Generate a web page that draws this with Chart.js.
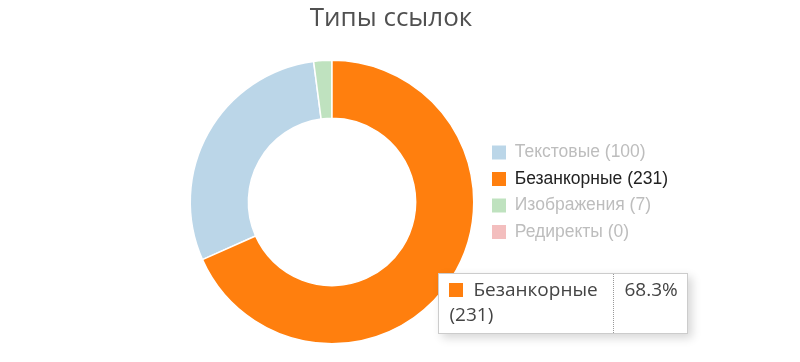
<!DOCTYPE html>
<html lang="ru">
<head>
<meta charset="utf-8">
<title>Типы ссылок</title>
<script src="https://cdn.jsdelivr.net/npm/chart.js@4.4.1/dist/chart.umd.min.js"></script>
<style>
    html, body { margin: 0; padding: 0; background: #fff; }
    #wrap { position: relative; width: 800px; height: 362px; }
    #tip {
        position: absolute;
        display: none;
        background: #fff;
        border: 1px solid #cccccc;
        box-shadow: 4px 4px 9px rgba(0, 0, 0, 0.16);
        font-family: "Open Sans", sans-serif;
        font-size: 19px;
        line-height: 25px;
        color: #444;
        pointer-events: none;
    }
    #tip table { border-collapse: collapse; }
    #tip td { vertical-align: top; padding: 3px 9px 6px 10px; }
    #tip td.nom { width: 155px; }
    #tip td.pct { width: 54px; border-left: 1px dotted #999; padding-left: 10px; }
    #tip .sw { display: inline-block; width: 14px; height: 14px; margin-right: 10px; vertical-align: -1px; }
</style>
</head>
<body>
<div id="wrap">
    <canvas id="graficoLinks" width="800" height="362"></canvas>
    <div id="tip"></div>
</div>
<script>
// Ordem do desenho (sentido horário a partir do topo)
const categorias = ['Безанкорные', 'Текстовые', 'Изображения', 'Редиректы'];
const valores = [231, 100, 7, 0];
// Ordem da legenda
const ordemLegenda = ['Текстовые', 'Безанкорные', 'Изображения', 'Редиректы'];
const categoriaAtiva = 'Безанкорные';

const cores = {
    'Текстовые': [31, 119, 180],
    'Безанкорные': [255, 127, 14],
    'Изображения': [44, 160, 44],
    'Редиректы': [214, 39, 40]
};

const total = valores.reduce((a, b) => a + b, 0);

function corDe(nome) {
    const c = cores[nome];
    const alpha = nome === categoriaAtiva ? 1 : 0.3;
    return `rgba(${c[0]}, ${c[1]}, ${c[2]}, ${alpha})`;
}

function tooltipExterno(context) {
    const { chart, tooltip } = context;
    const el = document.getElementById('tip');
    if (tooltip.opacity === 0 || !tooltip.dataPoints || !tooltip.dataPoints.length) {
        el.style.display = 'none';
        return;
    }
    const p = tooltip.dataPoints[0];
    const nome = categorias[p.dataIndex];
    const perc = (p.raw / total * 100).toFixed(1);
    el.innerHTML = `
        <table><tr>
            <td class="nom"><span class="sw" style="background:${corDe(nome)}"></span>${nome} (${p.raw})</td>
            <td class="pct">${perc}%</td>
        </tr></table>`;
    el.style.display = 'block';
    el.style.left = (chart.canvas.offsetLeft + tooltip.caretX + 12) + 'px';
    el.style.top = (chart.canvas.offsetTop + tooltip.caretY + 10) + 'px';
}

// A legenda reserva pouca largura (para o título ficar no lugar),
// mas o texto pode passar da caixa até a borda do canvas
const legendaSemCorte = {
    id: 'legendaSemCorte',
    afterLayout(chart) {
        if (chart.legend) chart.legend.right = chart.width;
    }
};

const grafico = new Chart(document.getElementById('graficoLinks'), {
    type: 'doughnut',
    data: {
        labels: categorias,
        datasets: [{
            data: valores,
            backgroundColor: categorias.map(corDe),
            hoverBackgroundColor: categorias.map(corDe),
            borderColor: '#fff',
            hoverBorderColor: '#fff',
            borderWidth: 1.5,
            hoverOffset: 0
        }]
    },
    options: {
        responsive: false,
        animation: false,
        cutout: '59%',
        rotation: 0,
        layout: { padding: { top: 40, bottom: 17.5, left: 181, right: 199 } },
        plugins: {
            title: {
                display: true,
                text: 'Типы ссылок',
                color: '#505050',
                font: { family: '"Open Sans", sans-serif', size: 26, weight: 'normal' },
                // sobe o título acima do padding (a legenda usa a altura toda)
                padding: { top: -36.6, bottom: 24.9 }
            },
            legend: {
                position: 'right',
                maxWidth: 118,
                onClick: null,
                labels: {
                    boxWidth: 14,
                    boxHeight: 14,
                    padding: 9,
                    font: { family: '"Liberation Sans", Arial, sans-serif', size: 17.5 },
                    generateLabels: (chart) => categorias.map((nome, i) => ({
                        text: `${nome} (${valores[i]})`,
                        fillStyle: corDe(nome),
                        strokeStyle: corDe(nome),
                        lineWidth: 0,
                        fontColor: nome === categoriaAtiva ? '#222' : '#bdbdbd',
                        hidden: false,
                        index: i
                    })),
                    sort: (a, b) => ordemLegenda.indexOf(categorias[a.index]) - ordemLegenda.indexOf(categorias[b.index])
                }
            },
            tooltip: {
                enabled: false,
                external: tooltipExterno
            }
        }
    },
    plugins: [legendaSemCorte]
});

// Destaca a fatia ativa e mostra o tooltip
const idxAtivo = categorias.indexOf(categoriaAtiva);
const ativos = [{ datasetIndex: 0, index: idxAtivo }];
grafico.setActiveElements(ativos);
grafico.tooltip.setActiveElements(ativos, { x: 0, y: 0 });
grafico.update();
</script>
</body>
</html>
